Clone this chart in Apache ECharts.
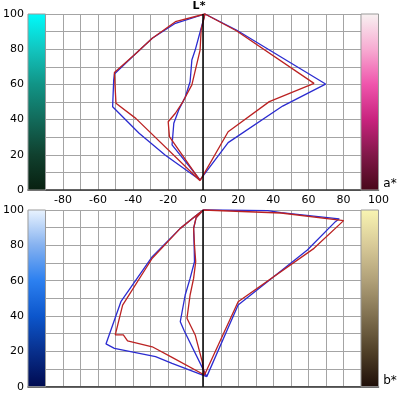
<!DOCTYPE html>
<html>
<head>
<meta charset="utf-8">
<script src="https://cdn.jsdelivr.net/npm/echarts@6/dist/echarts.min.js"></script>
<style>
html,body{margin:0;padding:0;background:#fff;}
#c{width:400px;height:393px;}
</style>
</head>
<body>
<div id="c"></div>
<script>
// ---- data (a*/b* value, L* value) ----
// top panel: L* vs a*
const topBlueA = [1, -4.6, -6.5, -7.5, -10.3, -14.0, -16.8, -17.8, -1.8, -21.8, -36.6, -51.7, -51.1, -50.7, -40.4, -29.1, -15.9, 1, 18.9, 69.8, 45.3, 14.2, -1.8];
const topBlueL = [100, 79.5, 73.9, 61.5, 52.7, 45.5, 37.9, 25.6, 5.7, 19.9, 32.2, 47.3, 62.5, 65.9, 75.7, 86.2, 94.7, 100, 90.9, 60.2, 47.7, 26.9, 5.7];
const topRedA = [1, -1.2, -1.8, -6.5, -12.1, -15.9, -20.0, -19.3, -1.8, -38.5, -49.8, -50.4, -50.7, -39.4, -29.1, -15.9, 1, 18.9, 63.2, 37.7, 14.2, -1.8];
const topRedL = [100, 90.9, 79.5, 59.7, 49.3, 43.6, 38.8, 30.3, 5.3, 40.7, 49.3, 60.6, 66.7, 76.7, 86.2, 95.6, 100, 90.5, 60.6, 50.2, 33.1, 5.3];
// bottom panel: L* vs b*
const botBlueB = [0, -4.1, -5.5, -5.2, -5.0, -7.5, -10.3, -13.1, -10.8, 2, -17.8, -27.2, -50.7, -55.5, -47.0, -29.1, -13.1, -3.7, 0, 36.8, 44.4, 77.6, 75.4, 59.4, 19.9, 2];
const botBlueL = [100, 95.6, 89.6, 80.2, 70.7, 61.3, 51.9, 36.8, 31.5, 5.7, 13.2, 17.0, 21.7, 24.2, 48.1, 73.6, 89.6, 97.2, 100, 99.7, 98.5, 95.0, 93.4, 77.4, 46.2, 5.7];
const botRedB = [0, -4.1, -5.5, -5.0, -4.3, -5.5, -7.5, -9.3, -4.6, -0.6, 0.7, -17.8, -29.1, -43.2, -45.6, -50.2, -46.0, -29.1, -13.1, -3.7, 0, 44.4, 80.1, 63.2, 19.9, 0.7];
const botRedL = [100, 95.6, 89.6, 80.2, 70.7, 61.3, 51.9, 38.7, 29.3, 14.2, 6.6, 16.6, 22.6, 26.0, 29.3, 29.3, 46.2, 72.7, 89.6, 97.2, 100, 98.3, 94.0, 78.3, 48.1, 6.6];
// tick labels
const xTickLabels = [-80, -60, -40, -20, 0, 20, 40, 60, 80, 100];
const yTickLabels = [0, 20, 40, 60, 80, 100];
// colour bar ranges (axis units)
const barLeft = [-100, -90];
const barRight = [90, 100];

const zip = (xs, ys) => xs.map((x, i) => [x, ys[i]]);
const grad = stops => ({type: 'linear', x: 0, y: 0, x2: 0, y2: 1,
  colorStops: stops.map((c, i) => ({offset: i / (stops.length - 1), color: c}))});

const cyanBar = grad(['#00fbfb', '#12c6c0', '#119486', '#126a5a', '#10402e', '#082010']);
const magentaBar = grad(['#f8f2f2', '#f7acd2', '#ef55ac', '#c8237e', '#801848', '#48081a']);
const blueBar = grad(['#eaf4ff', '#86b2f0', '#2c80f0', '#0c56cc', '#082f8c', '#000a50']);
const yellowBar = grad(['#f9f5b2', '#d8ca98', '#b0a078', '#807050', '#504028', '#1e0e08']);

const FONT = 'DejaVu Sans';
const xFmt = v => xTickLabels.indexOf(v) >= 0 ? String(v) : '';
const yFmt = v => yTickLabels.indexOf(v) >= 0 ? String(v) : '';

function xAxisCfg(gi, showLabels) {
  return {
    gridIndex: gi, type: 'value', min: -100, max: 100, interval: 10,
    axisLine: {show: true, onZero: false, lineStyle: {color: '#333', width: 1.5}},
    axisTick: {show: false},
    axisLabel: {show: showLabels, formatter: xFmt, margin: 5, color: '#000', fontFamily: FONT, fontSize: 11},
    splitLine: {show: true, lineStyle: {color: '#a4a4a4', width: 1}}
  };
}
function yAxisCfg(gi) {
  return {
    gridIndex: gi, type: 'value', min: 0, max: 100, interval: 10,
    axisLine: {show: false}, axisTick: {show: false},
    axisLabel: {formatter: yFmt, margin: 4, color: '#000', fontFamily: FONT, fontSize: 11},
    splitLine: {show: true, lineStyle: {color: '#a4a4a4', width: 1}}
  };
}
function bars(leftGrad, rightGrad) {
  return {
    silent: true,
    data: [
      [{coord: [barLeft[0], 0], itemStyle: {color: leftGrad, borderColor: '#9a9a9a', borderWidth: 1}}, {coord: [barLeft[1], 100]}],
      [{coord: [barRight[0], 0], itemStyle: {color: rightGrad, borderColor: '#9a9a9a', borderWidth: 1}}, {coord: [barRight[1], 100]}]
    ]
  };
}
const zeroLine = {
  silent: true, symbol: ['none', 'none'], label: {show: false},
  lineStyle: {color: '#000', width: 1.5, type: 'solid'},
  data: [[{coord: [0, 0]}, {coord: [0, 100]}]]
};
function lineSeries(gi, data, color, extra) {
  return Object.assign({
    type: 'line', xAxisIndex: gi, yAxisIndex: gi, data: data,
    symbol: 'none', showSymbol: false, clip: false,
    lineStyle: {color: color, width: 1.3}, itemStyle: {color: color}
  }, extra || {});
}

const chart = echarts.init(document.getElementById('c'), null, {renderer: 'canvas'});
chart.setOption({
  animation: false,
  backgroundColor: '#ffffff',
  textStyle: {fontFamily: FONT},
  grid: [
    {left: 24, right: 21.5, top: 14, height: 176},
    {left: 24, right: 21.5, top: 210, height: 176.7}
  ],
  xAxis: [xAxisCfg(0, true), xAxisCfg(1, false)],
  yAxis: [yAxisCfg(0), yAxisCfg(1)],
  series: [
    lineSeries(0, zip(topBlueA, topBlueL), '#2b2bd0', {markArea: bars(cyanBar, magentaBar), markLine: zeroLine}),
    lineSeries(0, zip(topRedA, topRedL), '#bb2222'),
    lineSeries(1, zip(botBlueB, botBlueL), '#2b2bd0', {markArea: bars(blueBar, yellowBar), markLine: zeroLine}),
    lineSeries(1, zip(botRedB, botRedL), '#bb2222')
  ],
  graphic: [
    {type: 'text', x: 199, y: 6, style: {text: 'L*', fill: '#000', font: 'bold 11px "DejaVu Sans"', align: 'center', verticalAlign: 'middle'}},
    {type: 'text', x: 390, y: 184, style: {text: 'a*', fill: '#000', font: '12px "DejaVu Sans"', align: 'center', verticalAlign: 'middle'}},
    {type: 'text', x: 390, y: 381, style: {text: 'b*', fill: '#000', font: '12px "DejaVu Sans"', align: 'center', verticalAlign: 'middle'}}
  ]
});
</script>
</body>
</html>
